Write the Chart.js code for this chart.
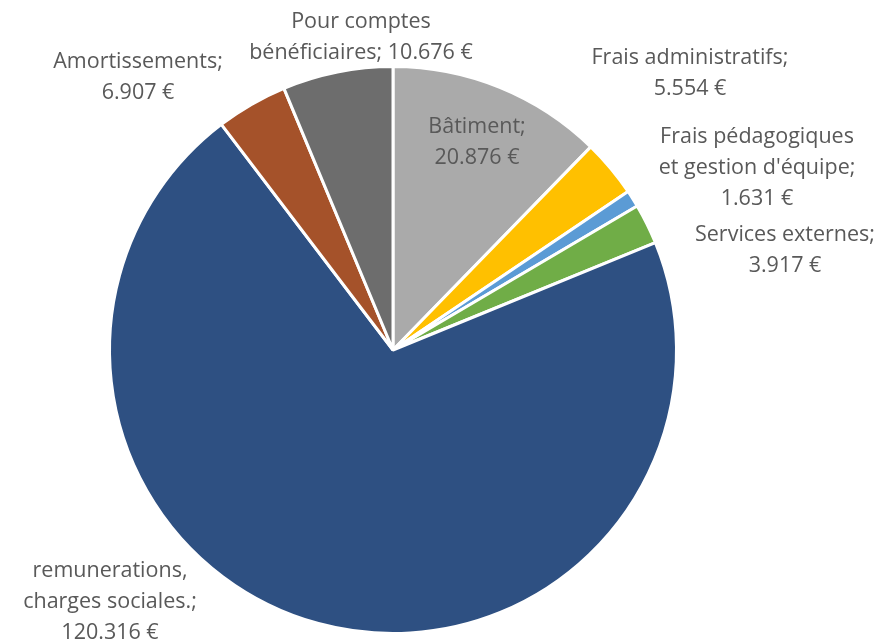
<!DOCTYPE html>
<html>
<head>
<meta charset="utf-8">
<script src="https://cdn.jsdelivr.net/npm/chart.js@4"></script>
<style>
  html, body { margin: 0; padding: 0; background: #fff; }
  #wrap { width: 881px; height: 641px; }
</style>
</head>
<body>
<div id="wrap"><canvas id="costChart" width="881" height="641"></canvas></div>
<script>
// categories, clockwise from 12 o'clock
const categories = [
    ['Bâtiment;', '20.876 €'],
    ['Frais administratifs;', '5.554 €'],
    ['Frais pédagogiques', "et gestion d'équipe;", '1.631 €'],
    ['Services externes;', '3.917 €'],
    ['remunerations,', 'charges sociales.;', '120.316 €'],
    ['Amortissements;', '6.907 €'],
    ['Pour comptes', 'bénéficiaires; 10.676 €']
];
const amounts = [20876, 5554, 1631, 3917, 120316, 6907, 10676];
const sliceColors = ['#AAAAAA', '#FFC000', '#5B9BD5', '#70AD47', '#2E5082', '#A5522A', '#6D6D6D'];

// where each label block is centred on the canvas
const labelSpots = [
    [477, 142], [690, 73], [757, 168], [785, 250], [110, 602], [138, 77], [361, 37]
];

const labelPlugin = {
    id: 'sliceLabels',
    afterDatasetsDraw(chart) {
        const ctx = chart.ctx;
        ctx.save();
        ctx.font = '21.5px "Open Sans"';
        ctx.fillStyle = '#595959';
        ctx.textAlign = 'center';
        ctx.textBaseline = 'middle';
        const lineH = 31;
        categories.forEach((lines, i) => {
            const [cx, cy] = labelSpots[i];
            const top = cy - (lines.length - 1) * lineH / 2;
            lines.forEach((txt, j) => ctx.fillText(txt, cx, top + j * lineH));
        });
        ctx.restore();
    }
};

new Chart(document.getElementById('costChart').getContext('2d'), {
    type: 'pie',
    data: {
        labels: categories.map(l => l.join(' ')),
        datasets: [{
            data: amounts,
            backgroundColor: sliceColors,
            borderColor: '#ffffff',
            borderWidth: 3
        }]
    },
    options: {
        responsive: false,
        animation: false,
        layout: { padding: { top: 65, bottom: 6, left: 108, right: 203 } },
        plugins: {
            legend: { display: false },
            tooltip: { enabled: false }
        }
    },
    plugins: [labelPlugin]
});
</script>
</body>
</html>
